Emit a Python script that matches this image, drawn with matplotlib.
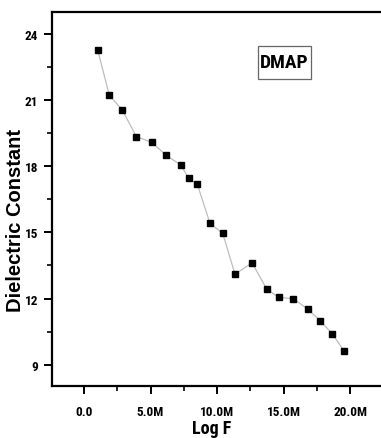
import numpy as np
import matplotlib
matplotlib.use('Agg')
import matplotlib.pyplot as plt
from matplotlib.patches import Rectangle
from matplotlib.ticker import MultipleLocator, FuncFormatter

plt.rcParams['font.family'] = ['Roboto Condensed', 'DejaVu Sans']
plt.rcParams['font.weight'] = 'bold'

# data
freq = [1.03e6, 1.90e6, 2.86e6, 3.93e6, 5.10e6, 6.17e6, 7.27e6, 7.87e6, 8.52e6, 9.47e6,
        10.43e6, 11.35e6, 12.63e6, 13.74e6, 14.64e6, 15.74e6, 16.82e6, 17.74e6, 18.65e6, 19.55e6]
eps = [23.27, 21.22, 20.57, 19.35, 19.08, 18.50, 18.06, 17.45, 17.18, 15.41,
       14.95, 13.10, 13.62, 12.42, 12.05, 11.99, 11.52, 11.00, 10.41, 9.62]
label = 'DMAP'

W, H = 381, 439
fig = plt.figure(figsize=(W / 100, H / 100), dpi=100)
ax = fig.add_axes([52 / W, 52 / H, 1.02 - 52 / W, 374 / H])

ax.plot(freq, eps, color='#bdbdbd', lw=0.9, marker='s', ms=4,
        mfc='black', mec='black', zorder=3)

ax.set_xlim(-2.41e6, 22.9e6)
ax.set_ylim(8.03, 25.0)

ax.xaxis.set_major_locator(MultipleLocator(5e6))
ax.xaxis.set_minor_locator(MultipleLocator(2.5e6))
ax.yaxis.set_major_locator(MultipleLocator(3))
ax.yaxis.set_minor_locator(MultipleLocator(1.5))

def fmt_m(v, pos):
    if abs(v) < 1:
        return '0.0'
    return '%.1fM' % (v / 1e6)

ax.xaxis.set_major_formatter(FuncFormatter(fmt_m))

for s in ax.spines.values():
    s.set_linewidth(1.6)
ax.spines['right'].set_visible(False)

ax.tick_params(which='major', direction='out', length=6, width=1.4, labelsize=9.5, pad=4)
ax.tick_params(which='minor', direction='out', length=3.5, width=1.2)
ax.tick_params(axis='x', which='major', pad=8)
for t in ax.get_xticklabels() + ax.get_yticklabels():
    t.set_fontweight('bold')

ax.set_xlabel('Log F', fontsize=13, fontweight='bold')
ax.xaxis.set_label_coords(0.475, -0.088)
ax.set_ylabel('Dielectric Constant', fontsize=14.5, fontweight='bold',
              family=['Liberation Sans', 'DejaVu Sans'])
ax.yaxis.set_label_coords(-0.081, 0.4465)

fig.add_artist(Rectangle((257.7 / W, 1 - 80 / H), 53.3 / W, 33.3 / H,
                         transform=fig.transFigure, fill=False, ec='#666666', lw=0.9))
fig.text(284.5 / W, 1 - 63.5 / H, label, ha='center', va='center',
         fontsize=14, fontweight='bold')

fig.savefig('out.png', dpi=100)
